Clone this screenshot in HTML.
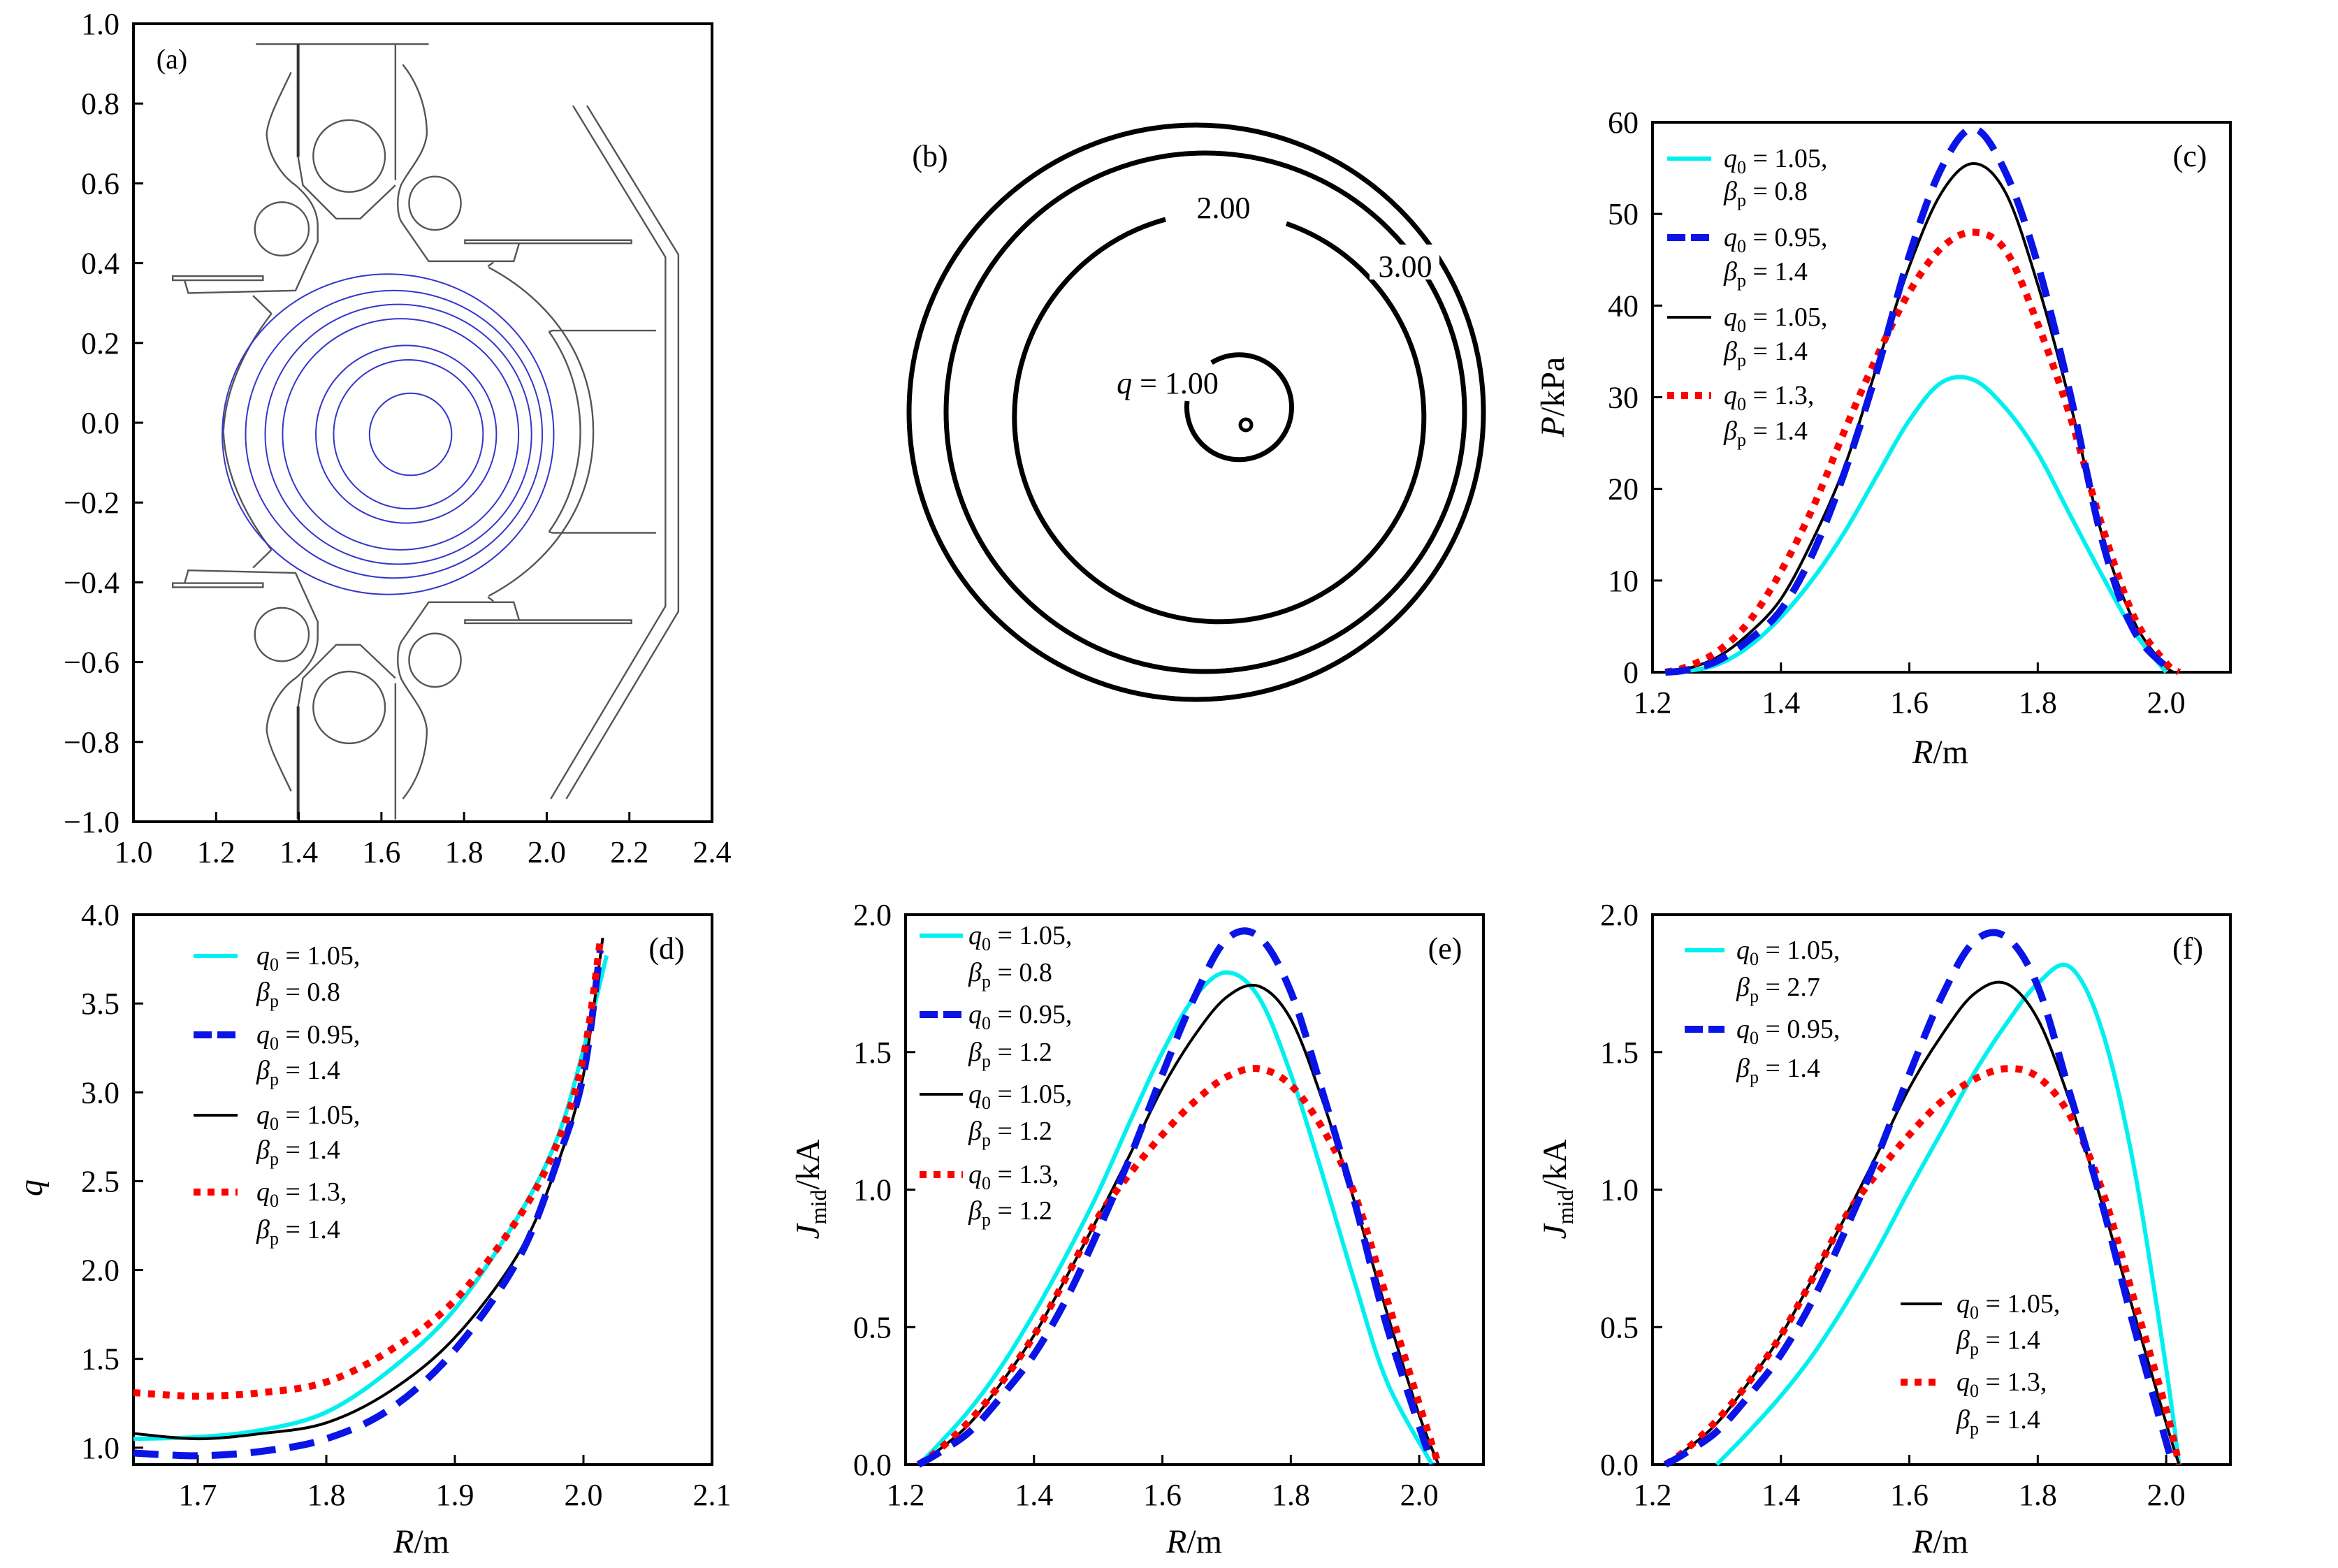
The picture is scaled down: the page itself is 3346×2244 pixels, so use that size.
<!DOCTYPE html>
<html><head><meta charset="utf-8"><style>
html,body{margin:0;padding:0;background:#fff;}
svg{display:block;font-family:"Liberation Serif",serif;}
</style></head><body>
<svg id="fig" xmlns="http://www.w3.org/2000/svg" width="3346" height="2244" viewBox="0 0 3346 2244">
<rect x="0" y="0" width="3346" height="2244" fill="#fff"/>
<g transform="translate(190,30) scale(0.5294,0.7348)" fill="none" stroke="#555" stroke-width="2.4">
  <g>
    <path vector-effect="non-scaling-stroke" d="M333,45 L800,45"/>
    <path vector-effect="non-scaling-stroke" stroke-width="4" stroke="#333" d="M447,45 L447,265"/>
    <path vector-effect="non-scaling-stroke" d="M710,45 L710,310"/>
    <path vector-effect="non-scaling-stroke" d="M447,265 L460,320 L550,385 L615,385 L710,320"/>
    <ellipse vector-effect="non-scaling-stroke" cx="585" cy="263" rx="97" ry="70"/>
    <ellipse vector-effect="non-scaling-stroke" cx="403" cy="405" rx="73" ry="52"/>
    <ellipse vector-effect="non-scaling-stroke" cx="817" cy="355" rx="70" ry="52"/>
    <path vector-effect="non-scaling-stroke" d="M428,100 C395,150 365,190 362,220 C365,260 400,300 440,320 C480,345 500,370 500,400 L500,430 L440,525 L150,530 L140,505"/>
    <rect vector-effect="non-scaling-stroke" x="108" y="497" width="244" height="8"/>
    <path vector-effect="non-scaling-stroke" d="M325,535 L375,570"/>
    <path vector-effect="non-scaling-stroke" d="M730,85 C770,120 795,170 795,220 C790,260 745,290 725,320 C712,345 715,375 725,390 L800,468 L1030,468 L1045,432"/>
    <rect vector-effect="non-scaling-stroke" x="898" y="427" width="450" height="6"/>
    <path vector-effect="non-scaling-stroke" d="M960,478 L975,470 M962,480 C1120,540 1245,650 1245,800"/>
    <path vector-effect="non-scaling-stroke" d="M375,570 C300,640 250,720 245,800"/>
    <path vector-effect="non-scaling-stroke" d="M1125,605 C1180,660 1210,730 1210,800 M1125,605 L1135,603 L1415,603"/>
  </g>
  <g transform="matrix(1 0 0 -1 0 1600)">
    <path vector-effect="non-scaling-stroke" stroke-width="4" stroke="#333" d="M447,45 L447,265"/>
    <path vector-effect="non-scaling-stroke" d="M710,45 L710,310"/>
    <path vector-effect="non-scaling-stroke" d="M447,265 L460,320 L550,385 L615,385 L710,320"/>
    <ellipse vector-effect="non-scaling-stroke" cx="585" cy="263" rx="97" ry="70"/>
    <ellipse vector-effect="non-scaling-stroke" cx="403" cy="405" rx="73" ry="52"/>
    <ellipse vector-effect="non-scaling-stroke" cx="817" cy="355" rx="70" ry="52"/>
    <path vector-effect="non-scaling-stroke" d="M428,100 C395,150 365,190 362,220 C365,260 400,300 440,320 C480,345 500,370 500,400 L500,430 L440,525 L150,530 L140,505"/>
    <rect vector-effect="non-scaling-stroke" x="108" y="497" width="244" height="8"/>
    <path vector-effect="non-scaling-stroke" d="M325,535 L375,570"/>
    <path vector-effect="non-scaling-stroke" d="M730,85 C770,120 795,170 795,220 C790,260 745,290 725,320 C712,345 715,375 725,390 L800,468 L1030,468 L1045,432"/>
    <rect vector-effect="non-scaling-stroke" x="898" y="427" width="450" height="6"/>
    <path vector-effect="non-scaling-stroke" d="M960,478 L975,470 M962,480 C1120,540 1245,650 1245,800"/>
    <path vector-effect="non-scaling-stroke" d="M375,570 C300,640 250,720 245,800"/>
    <path vector-effect="non-scaling-stroke" d="M1125,605 C1180,660 1210,730 1210,800 M1125,605 L1135,603 L1415,603"/>
  </g>
  <path vector-effect="non-scaling-stroke" d="M1190,165 L1440,460 L1440,1140 L1130,1515"/>
  <path vector-effect="non-scaling-stroke" d="M1228,165 L1475,455 L1475,1150 L1172,1515"/>
  <g stroke="#3535cc" stroke-width="2">
    <ellipse vector-effect="non-scaling-stroke" cx="690" cy="805" rx="448" ry="312"/>
    <ellipse vector-effect="non-scaling-stroke" cx="706" cy="805" rx="401" ry="280"/>
    <ellipse vector-effect="non-scaling-stroke" cx="718" cy="805" rx="360" ry="253"/>
    <ellipse vector-effect="non-scaling-stroke" cx="724" cy="805" rx="319" ry="225"/>
    <ellipse vector-effect="non-scaling-stroke" cx="739" cy="805" rx="244" ry="173"/>
    <ellipse vector-effect="non-scaling-stroke" cx="745" cy="805" rx="202" ry="145"/>
    <ellipse vector-effect="non-scaling-stroke" cx="751" cy="805" rx="111" ry="80"/>
  </g>
</g>
<text x="246" y="98" font-size="40" text-anchor="middle">(a)</text>

<g fill="none" stroke="#000" stroke-width="7">
  <circle cx="1712" cy="590" r="411"/>
  <circle cx="1725" cy="590" r="371"/>
  <path d="M1841,320 A293,293 0 1 1 1668,314"/>
  <path d="M1734,519 A75,75 0 1 1 1699,574"/>
  <circle cx="1783" cy="608" r="8" stroke-width="5"/>
</g>
<rect x="1960" y="350" width="100" height="50" fill="#fff"/>
<text x="1331" y="238" font-size="44" text-anchor="middle">(b)</text>
<text x="1751" y="312" font-size="44" text-anchor="middle">2.00</text>
<text x="2011" y="396" font-size="44" text-anchor="middle">3.00</text>
<text x="1671" y="563" font-size="44" text-anchor="middle"><tspan font-style="italic">q</tspan> = 1.00</text>

<g id="charts"></g>
</svg>
<script>
const aXTicks = [1.0,1.2,1.4,1.6,1.8,2.0,2.2,2.4];
const aYTicks = [1.0,0.8,0.6,0.4,0.2,0,-0.2,-0.4,-0.6,-0.8,-1.0];
// (c) pressure
const cXTicks = [1.2,1.4,1.6,1.8,2.0];
const cYTicks = [0,10,20,30,40,50,60];
const cCyanX = [1.22,1.25,1.3,1.35,1.4,1.45,1.5,1.55,1.6,1.65,1.7,1.75,1.8,1.85,1.9,1.95,2.0];
const cCyanY = [0,0.1,0.8,2.8,6.0,10.2,15.4,21.5,27.5,31.6,31.9,28.8,23.9,17.2,10.6,4.4,0];
const cBlueX = [1.22,1.25,1.3,1.35,1.4,1.45,1.5,1.55,1.6,1.65,1.7,1.75,1.8,1.85,1.9,1.95,2.01];
const cBlueY = [0,0.2,1.2,3.5,6.8,13,22,33,45.5,55,59.3,54.5,44.5,30.5,14.5,4.5,0];
const cBlackX = [1.22,1.25,1.3,1.35,1.4,1.45,1.5,1.55,1.6,1.65,1.7,1.75,1.8,1.85,1.9,1.95,2.0,2.02];
const cBlackY = [0,0.3,1.6,4.2,8.0,14.5,22.6,33.5,44.3,52.3,55.5,52.3,42.3,29.5,15,5.5,0.6,0];
const cRedX = [1.22,1.25,1.3,1.35,1.4,1.45,1.5,1.55,1.6,1.65,1.7,1.75,1.8,1.85,1.9,1.95,2.0,2.02];
const cRedY = [0,0.5,2.2,5.5,11,18,26.5,34.5,41.5,46.3,48,46,38,28,16,6,1,0];
// (d) safety factor
const dXTicks = [1.7,1.8,1.9,2.0,2.1];
const dYTicks = [1.0,1.5,2.0,2.5,3.0,3.5,4.0];
const dCyanX = [1.65,1.7,1.75,1.8,1.85,1.9,1.95,1.98,2.0,2.018];
const dCyanY = [1.05,1.06,1.1,1.2,1.44,1.78,2.31,2.75,3.24,3.77];
const dBlueX = [1.65,1.7,1.75,1.8,1.85,1.9,1.95,1.98,2.0,2.013];
const dBlueY = [0.97,0.955,0.98,1.05,1.22,1.55,2.07,2.62,3.1,3.8];
const dBlackX = [1.65,1.7,1.75,1.8,1.85,1.9,1.95,1.98,2.0,2.015];
const dBlackY = [1.08,1.05,1.08,1.14,1.32,1.62,2.1,2.6,3.1,3.87];
const dRedX = [1.65,1.7,1.75,1.8,1.85,1.9,1.95,1.98,2.0,2.013];
const dRedY = [1.31,1.29,1.31,1.37,1.55,1.83,2.3,2.72,3.2,3.85];
// (e) current density
const jXTicks = [1.2,1.4,1.6,1.8,2.0];
const jYTicks = [0,0.5,1.0,1.5,2.0];
const eCyanX = [1.22,1.25,1.3,1.35,1.4,1.45,1.5,1.55,1.6,1.65,1.7,1.75,1.8,1.85,1.9,1.95,2.02];
const eCyanY = [0,0.07,0.2,0.36,0.55,0.76,0.99,1.25,1.5,1.7,1.79,1.7,1.42,1.05,0.66,0.3,0];
const eBlueX = [1.22,1.25,1.3,1.35,1.4,1.45,1.5,1.55,1.6,1.65,1.7,1.75,1.8,1.85,1.9,1.95,2.02];
const eBlueY = [0,0.04,0.12,0.25,0.4,0.6,0.85,1.12,1.42,1.7,1.91,1.92,1.72,1.35,0.95,0.5,0];
const eBlackX = [1.22,1.25,1.3,1.35,1.4,1.45,1.5,1.55,1.6,1.65,1.7,1.75,1.8,1.85,1.9,1.95,2.0,2.03];
const eBlackY = [0,0.05,0.15,0.3,0.47,0.68,0.9,1.13,1.37,1.56,1.7,1.74,1.62,1.32,0.95,0.55,0.18,0];
const eRedX = [1.22,1.25,1.3,1.35,1.4,1.45,1.5,1.55,1.6,1.65,1.7,1.75,1.8,1.85,1.9,1.95,2.0,2.03];
const eRedY = [0,0.05,0.16,0.3,0.47,0.68,0.9,1.06,1.2,1.32,1.41,1.44,1.38,1.22,0.98,0.6,0.22,0];
// (f) current density
const fCyanX = [1.3,1.35,1.4,1.45,1.5,1.55,1.6,1.65,1.7,1.75,1.8,1.85,1.9,1.95,2.0,2.02];
const fCyanY = [0,0.12,0.25,0.4,0.58,0.78,1.0,1.21,1.42,1.6,1.75,1.81,1.58,1.08,0.35,0];
const fBlueX = [1.22,1.25,1.3,1.35,1.4,1.45,1.5,1.55,1.6,1.65,1.7,1.75,1.8,1.85,1.9,1.95,2.01];
const fBlueY = [0,0.04,0.12,0.25,0.4,0.6,0.85,1.12,1.42,1.7,1.9,1.92,1.74,1.35,0.95,0.5,0];
const fBlackX = [1.22,1.25,1.3,1.35,1.4,1.45,1.5,1.55,1.6,1.65,1.7,1.75,1.8,1.85,1.9,1.95,2.0,2.02];
const fBlackY = [0,0.05,0.15,0.3,0.47,0.68,0.9,1.13,1.37,1.56,1.71,1.75,1.62,1.32,0.95,0.55,0.15,0];
const fRedX = [1.22,1.25,1.3,1.35,1.4,1.45,1.5,1.55,1.6,1.65,1.7,1.75,1.8,1.85,1.9,1.95,2.0,2.02];
const fRedY = [0,0.05,0.16,0.3,0.47,0.68,0.9,1.06,1.2,1.32,1.4,1.44,1.41,1.27,1.0,0.6,0.2,0];

const NS = "http://www.w3.org/2000/svg";
const root = document.getElementById('charts');
function el(tag, attrs, parent){
  const e = document.createElementNS(NS, tag);
  for (const k in attrs) e.setAttribute(k, attrs[k]);
  (parent||root).appendChild(e);
  return e;
}
const STY = {
  cyan:{stroke:'#00f0f0','stroke-width':6},
  blue:{stroke:'#0a14e6','stroke-width':10,'stroke-dasharray':'36 20'},
  black:{stroke:'#000','stroke-width':4},
  red:{stroke:'#f00','stroke-width':10,'stroke-dasharray':'10 11'}
};
const LEG_DASH = {blue:'26 8', red:'10 10'};
function fmt(v, dec){ const s = Math.abs(v).toFixed(dec); return v < -1e-9 ? '\u2212' + s : s; }
function makeAxes(name, px0, px1, py0, py1, x0, x1, y0, y1){
  const g = el('g', {});
  
  
  return { g, sx: v => px0 + (v - x0) / (x1 - x0) * (px1 - px0), sy: v => py1 - (v - y0) / (y1 - y0) * (py1 - py0), px0, px1, py0, py1 };
}
function frame(ax){
  const r = el('rect', {x:ax.px0, y:ax.py0, width:ax.px1-ax.px0, height:ax.py1-ax.py0, fill:'none', stroke:'#000', 'stroke-width':4}, ax.g);
  
  
}
function xTicks(ax, ticks, dec){
  ticks.forEach(t => {
    const x = ax.sx(t);
    const l = el('line', {x1:x, x2:x, y1:ax.py1, y2:ax.py1-14, stroke:'#000', 'stroke-width':3}, ax.g);
    
    
    const tx = el('text', {x:x, y:ax.py1+58, 'font-size':44, 'text-anchor':'middle'}, ax.g);
    
    
    tx.textContent = fmt(t, dec);
  });
}
function yTicks(ax, ticks, dec){
  ticks.forEach(t => {
    const y = ax.sy(t);
    const l = el('line', {x1:ax.px0, x2:ax.px0+14, y1:y, y2:y, stroke:'#000', 'stroke-width':3}, ax.g);
    
    
    const tx = el('text', {x:ax.px0-20, y:y+15, 'font-size':44, 'text-anchor':'end'}, ax.g);
    
    
    tx.textContent = fmt(t, dec);
  });
}
function smoothPath(pts){
  let d = 'M' + pts[0][0].toFixed(1) + ',' + pts[0][1].toFixed(1);
  for (let i = 0; i < pts.length - 1; i++){
    const p0 = pts[i-1] || pts[i], p1 = pts[i], p2 = pts[i+1], p3 = pts[i+2] || pts[i+1];
    const c1 = [p1[0] + (p2[0]-p0[0])/6, p1[1] + (p2[1]-p0[1])/6];
    const c2 = [p2[0] - (p3[0]-p1[0])/6, p2[1] - (p3[1]-p1[1])/6];
    d += ' C' + c1[0].toFixed(1) + ',' + c1[1].toFixed(1) + ' ' + c2[0].toFixed(1) + ',' + c2[1].toFixed(1) + ' ' + p2[0].toFixed(1) + ',' + p2[1].toFixed(1);
  }
  return d;
}
function series(ax, xs, ys, style, name){
  const pts = xs.map((x, i) => [ax.sx(x), ax.sy(ys[i])]);
  const p = el('path', Object.assign({d:smoothPath(pts), fill:'none', 'stroke-linejoin':'round'}, STY[style]), ax.g);
  
  
}
function label(ax, x, y, html, name, extra){
  const t = el('text', Object.assign({x:x, y:y, 'font-size':44, 'text-anchor':'middle'}, extra||{}), ax.g);
  
  
  t.innerHTML = html;
}
function legendEntry(ax, lx0, lx1, tx, yc1, yc2, q0, bp, style, name){
  const g = el('g', {}, ax.g);
  
  
  const st = Object.assign({x1:lx0, x2:lx1, y1:yc1, y2:yc1}, STY[style]);
  if (LEG_DASH[style]) st['stroke-dasharray'] = LEG_DASH[style];
  el('line', st, g);
  const t1 = el('text', {x:tx, y:yc1+12, 'font-size':38}, g);
  t1.innerHTML = '<tspan font-style="italic">q</tspan><tspan font-size="26" dy="9">0</tspan><tspan dy="-9"> = ' + q0 + ',</tspan>';
  const t2 = el('text', {x:tx, y:yc2+12, 'font-size':38}, g);
  t2.innerHTML = '<tspan font-style="italic">β</tspan><tspan font-size="26" dy="9">p</tspan><tspan dy="-9"> = ' + bp + '</tspan>';
}
const Rlab = '<tspan font-style="italic">R</tspan>/m';

const axA = makeAxes('panel-a', 191, 1019, 34, 1176, 1.0, 2.4, -1.0, 1.0);
frame(axA); xTicks(axA, aXTicks, 1); yTicks(axA, aYTicks, 1);

const axC = makeAxes('panel-c-pressure', 2365, 3192, 175, 962, 1.2, 2.1, 0, 60);
frame(axC); xTicks(axC, cXTicks, 1); yTicks(axC, cYTicks, 0);
series(axC, cCyanX, cCyanY, 'cyan', 'pressure-q105-bp08');
series(axC, cBlackX, cBlackY, 'black', 'pressure-q105-bp14');
series(axC, cRedX, cRedY, 'red', 'pressure-q13-bp14');
series(axC, cBlueX, cBlueY, 'blue', 'pressure-q095-bp14');
legendEntry(axC, 2386, 2449, 2467, 227, 274, '1.05', '0.8', 'cyan', 'legend-entry-cyan');
legendEntry(axC, 2386, 2449, 2467, 340, 389, '0.95', '1.4', 'blue', 'legend-entry-blue');
legendEntry(axC, 2386, 2449, 2467, 454, 503, '1.05', '1.4', 'black', 'legend-entry-black');
legendEntry(axC, 2386, 2449, 2467, 566, 617, '1.3', '1.4', 'red', 'legend-entry-red');
label(axC, 3134, 238, '(c)', 'panel-c-label');
label(axC, 2777, 1092, Rlab, 'x-axis-title', {'font-size':48});
label(axC, 0, 0, '<tspan font-style="italic">P</tspan>/kPa', 'y-axis-title', {'font-size':48, transform:'translate(2238,568) rotate(-90)'});

const axD = makeAxes('panel-d-q-profile', 191, 1019, 1309, 2096, 1.65, 2.1, 0.905, 4.0);
frame(axD); xTicks(axD, dXTicks, 1); yTicks(axD, dYTicks, 1);
series(axD, dCyanX, dCyanY, 'cyan', 'q-q105-bp08');
series(axD, dBlackX, dBlackY, 'black', 'q-q105-bp14');
series(axD, dBlueX, dBlueY, 'blue', 'q-q095-bp14');
series(axD, dRedX, dRedY, 'red', 'q-q13-bp14');
legendEntry(axD, 277, 340, 367, 1368, 1420, '1.05', '0.8', 'cyan', 'legend-entry-cyan');
legendEntry(axD, 277, 340, 367, 1481, 1532, '0.95', '1.4', 'blue', 'legend-entry-blue');
legendEntry(axD, 277, 340, 367, 1596, 1646, '1.05', '1.4', 'black', 'legend-entry-black');
legendEntry(axD, 277, 340, 367, 1706, 1760, '1.3', '1.4', 'red', 'legend-entry-red');
label(axD, 954, 1372, '(d)', 'panel-d-label');
label(axD, 603, 2222, Rlab, 'x-axis-title', {'font-size':48});
label(axD, 0, 0, '<tspan font-style="italic">q</tspan>', 'y-axis-title', {'font-size':48, transform:'translate(60,1700) rotate(-90)'});

const axE = makeAxes('panel-e-current', 1296, 2123, 1309, 2096, 1.2, 2.1, 0, 2.0);
frame(axE); xTicks(axE, jXTicks, 1); yTicks(axE, jYTicks, 1);
series(axE, eCyanX, eCyanY, 'cyan', 'j-q105-bp08');
series(axE, eBlackX, eBlackY, 'black', 'j-q105-bp12');
series(axE, eRedX, eRedY, 'red', 'j-q13-bp12');
series(axE, eBlueX, eBlueY, 'blue', 'j-q095-bp12');
legendEntry(axE, 1316, 1378, 1386, 1339, 1392, '1.05', '0.8', 'cyan', 'legend-entry-cyan');
legendEntry(axE, 1316, 1378, 1386, 1452, 1506, '0.95', '1.2', 'blue', 'legend-entry-blue');
legendEntry(axE, 1316, 1378, 1386, 1566, 1619, '1.05', '1.2', 'black', 'legend-entry-black');
legendEntry(axE, 1316, 1378, 1386, 1681, 1733, '1.3', '1.2', 'red', 'legend-entry-red');
label(axE, 2068, 1372, '(e)', 'panel-e-label');
label(axE, 1709, 2222, Rlab, 'x-axis-title', {'font-size':48});
label(axE, 0, 0, '<tspan font-style="italic">J</tspan><tspan font-size="32" dy="10">mid</tspan><tspan dy="-10">/kA</tspan>', 'y-axis-title', {'font-size':48, transform:'translate(1172,1702) rotate(-90)'});

const axF = makeAxes('panel-f-current', 2365, 3192, 1309, 2096, 1.2, 2.1, 0, 2.0);
frame(axF); xTicks(axF, jXTicks, 1); yTicks(axF, jYTicks, 1);
series(axF, fCyanX, fCyanY, 'cyan', 'j-q105-bp27');
series(axF, fBlackX, fBlackY, 'black', 'j-q105-bp14');
series(axF, fRedX, fRedY, 'red', 'j-q13-bp14');
series(axF, fBlueX, fBlueY, 'blue', 'j-q095-bp14');
legendEntry(axF, 2411, 2468, 2485, 1360, 1413, '1.05', '2.7', 'cyan', 'legend-entry-cyan');
legendEntry(axF, 2411, 2468, 2485, 1473, 1529, '0.95', '1.4', 'blue', 'legend-entry-blue');
legendEntry(axF, 2720, 2779, 2800, 1866, 1918, '1.05', '1.4', 'black', 'legend-entry-black');
legendEntry(axF, 2720, 2779, 2800, 1978, 2032, '1.3', '1.4', 'red', 'legend-entry-red');
label(axF, 3131, 1372, '(f)', 'panel-f-label');
label(axF, 2777, 2222, Rlab, 'x-axis-title', {'font-size':48});
label(axF, 0, 0, '<tspan font-style="italic">J</tspan><tspan font-size="32" dy="10">mid</tspan><tspan dy="-10">/kA</tspan>', 'y-axis-title', {'font-size':48, transform:'translate(2241,1702) rotate(-90)'});
</script>
</body></html>
